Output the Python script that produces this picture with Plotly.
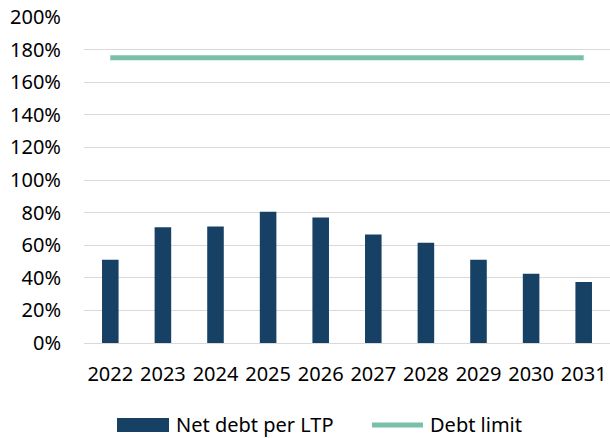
import plotly.graph_objects as go

# Net debt projection vs. debt limit, as a share of revenue
years = ["2022", "2023", "2024", "2025", "2026", "2027", "2028", "2029", "2030", "2031"]
net_debt = [51, 71, 71.5, 80.5, 77, 66.5, 61.5, 51, 42.5, 37.5]
debt_limit = [175] * len(years)
y_ticks = [0, 20, 40, 60, 80, 100, 120, 140, 160, 180, 200]

BAR_COLOR = "#164064"
LIMIT_COLOR = "#79c0a7"
FONT = "Noto Sans"
FS = 20

W, H = 610, 438
M_L, M_R, M_T, M_B = 84, 0, 17, 95
PW = W - M_L - M_R
PH = H - M_T - M_B

fig = go.Figure()
fig.add_trace(go.Bar(x=years, y=net_debt, name="Net debt per LTP",
                     marker=dict(color=BAR_COLOR, line=dict(width=0)),
                     showlegend=False))
fig.add_trace(go.Scatter(x=years, y=debt_limit, name="Debt limit", mode="lines",
                         line=dict(color=LIMIT_COLOR, width=5),
                         showlegend=False))


def px_x(p):
    return (p - M_L) / PW


def px_y(p):
    return (H - M_B - p) / PH


# Legend drawn beneath the axis: wide bar swatch and a line swatch
legend_y = 425
fig.add_shape(type="rect", xref="paper", yref="paper",
              x0=px_x(117), x1=px_x(169), y0=px_y(432), y1=px_y(418),
              fillcolor=BAR_COLOR, line=dict(width=0))
fig.add_shape(type="line", xref="paper", yref="paper",
              x0=px_x(372), x1=px_x(423), y0=px_y(legend_y), y1=px_y(legend_y),
              line=dict(color=LIMIT_COLOR, width=5))
fig.add_annotation(xref="paper", yref="paper", x=px_x(174), y=px_y(legend_y),
                   text="Net debt per LTP", showarrow=False, xanchor="left",
                   yanchor="middle", font=dict(family=FONT, size=FS, color="#000"))
fig.add_annotation(xref="paper", yref="paper", x=px_x(428), y=px_y(legend_y),
                   text="Debt limit", showarrow=False, xanchor="left",
                   yanchor="middle", font=dict(family=FONT, size=FS, color="#000"))

fig.update_layout(
    width=W, height=H,
    margin=dict(l=M_L, r=M_R, t=M_T, b=M_B, pad=0),
    paper_bgcolor="white", plot_bgcolor="white",
    bargap=0.685,
    font=dict(family=FONT, size=FS, color="#000"),
    showlegend=False,
)
fig.update_xaxes(
    type="category", showgrid=False, showline=False, zeroline=False,
    ticks="outside", ticklen=13, tickcolor="rgba(0,0,0,0)",
    tickfont=dict(family=FONT, size=FS, color="#000"),
)
fig.update_yaxes(
    range=[0, 200], tickvals=y_ticks, ticktext=[f"{v}%" for v in y_ticks],
    showgrid=True, gridcolor="#d9d9d9", gridwidth=1,
    zeroline=True, zerolinecolor="#d9d9d9", zerolinewidth=1,
    showline=False, ticks="outside", ticklen=18, tickcolor="rgba(0,0,0,0)",
    tickfont=dict(family=FONT, size=FS, color="#000"),
)

fig.write_html("out.html")
